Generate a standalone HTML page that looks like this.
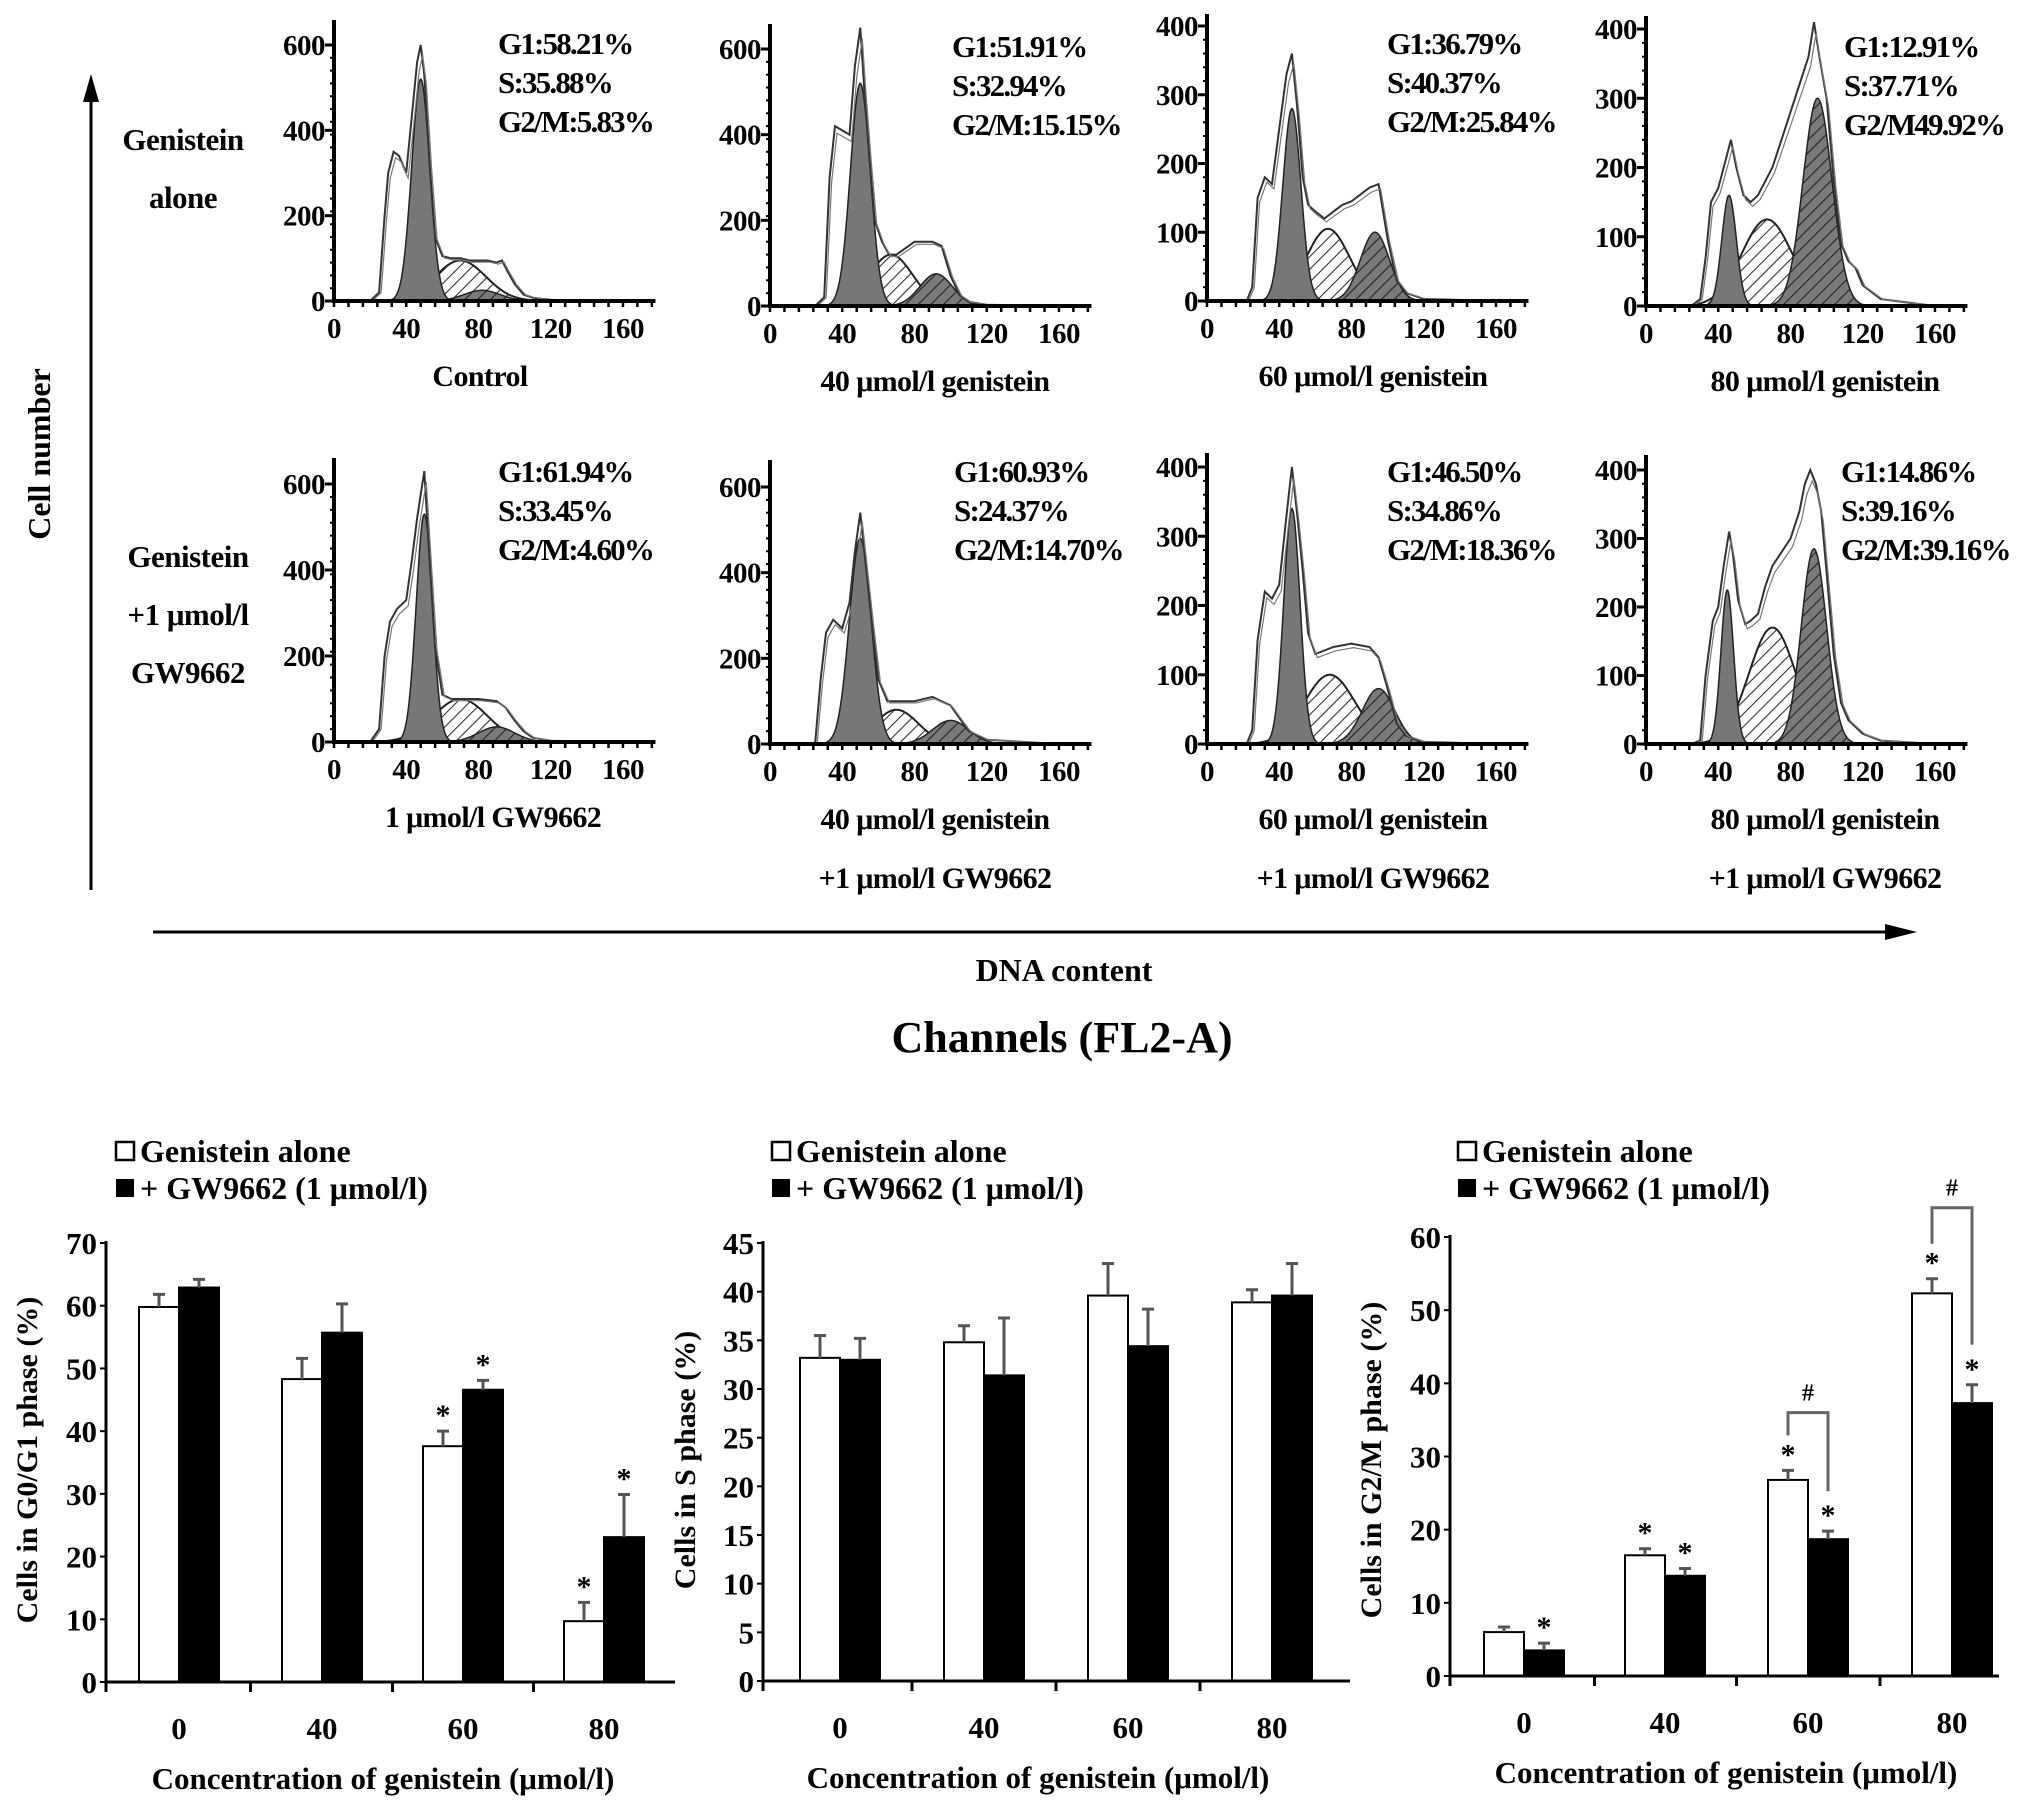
<!DOCTYPE html>
<html><head><meta charset="utf-8"><style>
html,body{margin:0;padding:0;background:#fff;}
svg{display:block;}
text{font-family:"Liberation Serif",serif;font-weight:bold;fill:#000;}
</style></head><body>
<svg id="fig" width="2031" height="1807" viewBox="0 0 2031 1807" xmlns="http://www.w3.org/2000/svg">
<defs>
<pattern id="hatchW" patternUnits="userSpaceOnUse" width="9" height="9" patternTransform="rotate(45)"><rect width="9" height="9" fill="#fff"/><line x1="0" y1="0" x2="0" y2="9" stroke="#333" stroke-width="2.2"/></pattern>
<pattern id="hatchG" patternUnits="userSpaceOnUse" width="9" height="9" patternTransform="rotate(45)"><rect width="9" height="9" fill="#7a7a7a"/><line x1="0" y1="0" x2="0" y2="9" stroke="#222" stroke-width="2.2"/></pattern>
</defs>
<g id="topSection"></g>
<g id="barSection"></g>
</svg>
<script>
// ===== Histogram data (channel, count) =====
const xTickLabels = [0,40,80,120,160];
const yTicks600 = [0,200,400,600];
const yTicks400 = [0,100,200,300,400];

const p1OutCh  = [20,25,28,30,33,36,40,43,46,48,50,53,56,60,65,70,75,80,85,90,93,96,100,105,110,115,120,130,160];
const p1OutVal = [0,20,200,300,350,340,300,430,560,600,530,320,150,105,100,100,95,95,95,90,95,70,40,15,8,5,3,1,0];
const p1Fit = [48,520,5, 70,95,14, 82,25,10];
const p1Stats = ["G1:58.21%","S:35.88%","G2/M:5.83%"];

const p2OutCh  = [25,30,33,36,40,44,47,50,52,55,58,62,66,70,75,80,85,90,95,100,105,110,120,160];
const p2OutVal = [0,20,300,420,410,400,560,650,520,350,200,150,120,120,135,150,150,150,140,70,25,10,3,0];
const p2Fit = [50,520,5.5, 67,120,12, 92,75,9];
const p2Stats = ["G1:51.91%","S:32.94%","G2/M:15.15%"];

const p3OutCh  = [22,25,28,32,36,40,44,47,50,53,56,60,65,70,75,80,85,90,95,100,105,110,120,160];
const p3OutVal = [0,20,150,180,170,250,330,360,280,180,140,130,120,130,140,145,155,165,170,90,30,12,3,0];
const p3Fit = [47,280,5, 67,105,12, 93,100,8];
const p3Stats = ["G1:36.79%","S:40.37%","G2/M:25.84%"];

const p4OutCh  = [25,30,33,36,40,44,47,50,54,58,62,66,70,75,80,85,90,93,96,100,104,108,112,116,120,130,160];
const p4OutVal = [0,10,70,150,170,210,240,200,160,150,160,180,200,240,280,320,360,410,360,300,180,90,65,55,30,10,0];
const p4Fit = [46,160,4, 67,125,14, 95,300,8];
const p4Stats = ["G1:12.91%","S:37.71%","G2/M49.92%"];

const p5OutCh  = [20,25,28,31,35,40,43,46,50,53,56,60,65,70,80,90,95,100,105,110,120,160];
const p5OutVal = [0,30,200,280,310,330,420,520,630,420,220,110,100,100,100,95,80,50,25,10,3,0];
const p5Fit = [50,530,4.5, 70,100,15, 90,35,10];
const p5Stats = ["G1:61.94%","S:33.45%","G2/M:4.60%"];

const p6OutCh  = [25,28,31,35,40,44,47,50,53,56,60,65,70,80,90,100,105,110,120,160];
const p6OutVal = [0,150,260,290,270,330,450,540,420,300,150,100,100,100,110,90,60,30,10,0];
const p6Fit = [50,480,6, 70,80,12, 100,55,10];
const p6Stats = ["G1:60.93%","S:24.37%","G2/M:14.70%"];

const p7OutCh  = [22,25,28,32,36,40,44,47,50,53,56,60,70,80,90,95,100,105,110,120,160];
const p7OutVal = [0,20,150,220,210,230,330,400,330,250,160,130,140,145,140,125,80,30,12,3,0];
const p7Fit = [47,340,4.5, 68,100,14, 95,80,9];
const p7Stats = ["G1:46.50%","S:34.86%","G2/M:18.36%"];

const p8OutCh  = [25,30,33,37,40,43,46,48,51,55,58,62,66,70,75,80,85,88,91,94,97,100,104,108,112,120,130,160];
const p8OutVal = [0,5,100,180,200,260,310,280,210,175,180,190,230,260,280,300,340,380,400,380,340,250,130,60,35,15,5,0];
const p8Fit = [45,225,3.5, 70,170,13, 93,285,7];
const p8Stats = ["G1:14.86%","S:39.16%","G2/M:39.16%"];

// ===== Bar chart data =====
const concCategories = ["0","40","60","80"];
const g1Alone = [59.8,48.3,37.6,9.7];
const g1AloneErr = [2.0,3.3,2.4,3.0];
const g1GW = [62.9,55.7,46.6,23.1];
const g1GWErr = [1.3,4.6,1.5,6.8];
const g1Ticks = [0,10,20,30,40,50,60,70];
const g1StarAlone = [false,false,true,true];
const g1StarGW = [false,false,true,true];

const sAlone = [33.2,34.8,39.6,38.9];
const sAloneErr = [2.3,1.7,3.3,1.3];
const sGW = [33.0,31.4,34.4,39.6];
const sGWErr = [2.2,5.9,3.8,3.3];
const sTicks = [0,5,10,15,20,25,30,35,40,45];
const sStarAlone = [false,false,false,false];
const sStarGW = [false,false,false,false];

const g2Alone = [6.0,16.5,26.8,52.3];
const g2AloneErr = [0.7,0.9,1.3,2.0];
const g2GW = [3.5,13.7,18.7,37.3];
const g2GWErr = [1.0,1.0,1.1,2.5];
const g2Ticks = [0,10,20,30,40,50,60];
const g2StarAlone = [false,true,true,true];
const g2StarGW = [true,true,true,true];

const NS="http://www.w3.org/2000/svg";
function mk(tag, attrs, parent){const e=document.createElementNS(NS,tag);for(const k in attrs)e.setAttribute(k,attrs[k]);if(parent)parent.appendChild(e);return e;}
function txt(parent,x,y,s,size,anchor,extra){const t=mk('text',Object.assign({x:x,y:y,'font-size':size,'text-anchor':anchor||'start'},extra||{}),parent);t.textContent=s;return t;}

const topG=document.getElementById('topSection');

const panelLayout=[
 {ox:334,zy:301,top:20,ppy:(301-45)/600,ticks:yTicks600,out:[p1OutCh,p1OutVal],fit:p1Fit,stats:p1Stats,sx:500,sy:43,cap:["Control"],cx:480},
 {ox:770,zy:306,top:24,ppy:(306-49)/600,ticks:yTicks600,out:[p2OutCh,p2OutVal],fit:p2Fit,stats:p2Stats,sx:954,sy:46,cap:["40 μmol/l genistein"],cx:935},
 {ox:1207,zy:301,top:14,ppy:(301-26)/400,ticks:yTicks400,out:[p3OutCh,p3OutVal],fit:p3Fit,stats:p3Stats,sx:1389,sy:43,cap:["60 μmol/l genistein"],cx:1373},
 {ox:1646,zy:306,top:16,ppy:(306-29)/400,ticks:yTicks400,out:[p4OutCh,p4OutVal],fit:p4Fit,stats:p4Stats,sx:1846,sy:46,cap:["80 μmol/l genistein"],cx:1825},
 {ox:334,zy:742,top:458,ppy:(742-484)/600,ticks:yTicks600,out:[p5OutCh,p5OutVal],fit:p5Fit,stats:p5Stats,sx:500,sy:471,cap:["1 μmol/l GW9662"],cx:493},
 {ox:770,zy:744,top:460,ppy:(744-487)/600,ticks:yTicks600,out:[p6OutCh,p6OutVal],fit:p6Fit,stats:p6Stats,sx:956,sy:471,cap:["40 μmol/l genistein","+1 μmol/l GW9662"],cx:935},
 {ox:1207,zy:744,top:453,ppy:(744-467)/400,ticks:yTicks400,out:[p7OutCh,p7OutVal],fit:p7Fit,stats:p7Stats,sx:1389,sy:471,cap:["60 μmol/l genistein","+1 μmol/l GW9662"],cx:1373},
 {ox:1646,zy:744,top:455,ppy:(744-470)/400,ticks:yTicks400,out:[p8OutCh,p8OutVal],fit:p8Fit,stats:p8Stats,sx:1843,sy:471,cap:["80 μmol/l genistein","+1 μmol/l GW9662"],cx:1825}
];
const PPX=1.806;
function gauss(x,m,h,s){return h*Math.exp(-0.5*((x-m)/s)*((x-m)/s));}

panelLayout.forEach((P,pi)=>{
  const g=mk('g',{},topG);
  
  
  const X=c=>P.ox+c*PPX, Y=v=>P.zy-v*P.ppy;
  const f=P.fit;
  function curvePts(m,h,s){let pts=[];for(let c=Math.max(0,m-3.2*s);c<=m+3.2*s;c+=0.5)pts.push(X(c).toFixed(1)+','+Y(gauss(c,m,h,s)).toFixed(1));return pts;}
  let sp=curvePts(f[3],f[4],f[5]);
  const sPath=mk('polygon',{points:X(f[3]-3.2*f[5])+','+P.zy+' '+sp.join(' ')+' '+X(f[3]+3.2*f[5])+','+P.zy,fill:'url(#hatchW)',stroke:'#222','stroke-width':2},g);
  
  
  let g1=curvePts(f[0],f[1],f[2]);
  const g1P=mk('polygon',{points:X(f[0]-3.2*f[2])+','+P.zy+' '+g1.join(' ')+' '+X(f[0]+3.2*f[2])+','+P.zy,fill:'#777',stroke:'#222','stroke-width':1.5},g);
  
  
  let g2=curvePts(f[6],f[7],f[8]);
  const g2P=mk('polygon',{points:X(f[6]-3.2*f[8])+','+P.zy+' '+g2.join(' ')+' '+X(f[6]+3.2*f[8])+','+P.zy,fill:'url(#hatchG)',stroke:'#222','stroke-width':1.5},g);
  
  
  const ch=P.out[0], vals=P.out[1];
  let d='';ch.forEach((c,i)=>{d+=(i?'L':'M')+X(c).toFixed(1)+','+Y(vals[i]).toFixed(1);});
  const ol=mk('path',{d:d,fill:'none',stroke:'#333','stroke-width':2},g);
  
  
  let d2='';ch.forEach((c,i)=>{d2+=(i?'L':'M')+(X(c)+2).toFixed(1)+','+(Y(vals[i]*0.96)).toFixed(1);});
  const ol2=mk('path',{d:d2,fill:'none',stroke:'#777','stroke-width':1.2},g);
  
  
  const ax=mk('path',{d:'M'+P.ox+','+P.top+'V'+P.zy+'H'+X(178),stroke:'#000','stroke-width':4,fill:'none'},g);
  
  
  const maxT=P.ticks[P.ticks.length-1];
  const step=maxT/20;
  for(let v=0;v<=maxT+0.1;v+=step){mk('line',{x1:P.ox-4,x2:P.ox,y1:Y(v),y2:Y(v),stroke:'#000','stroke-width':2},g);}
  P.ticks.forEach(v=>{mk('line',{x1:P.ox-9,x2:P.ox,y1:Y(v),y2:Y(v),stroke:'#000','stroke-width':3},g);
    const t=txt(g,P.ox-9,Y(v)+10,String(v),29,'end',{'letter-spacing':'-0.5'});
    
    });
  for(let c=0;c<=176;c+=8){mk('line',{x1:X(c),x2:X(c),y1:P.zy,y2:P.zy+6,stroke:'#000','stroke-width':2.5},g);}
  xTickLabels.forEach(c=>{const t=txt(g,X(c),P.zy+37,String(c),29,'middle',{'letter-spacing':'-0.5'});
    
    });
  P.stats.forEach((s,i)=>{const t=txt(g,P.sx-2,P.sy+11+i*39,s,31,'start',{'letter-spacing':'-1.8'});
    
    });
  P.cap.forEach((s,i)=>{const t=txt(g,P.cx,P.zy+85+i*59,s,30,'middle',{'letter-spacing':'-0.6'});
    
    });
});

[[183,150,"Genistein"],[183,208,"alone"],[188,567,"Genistein"],[188,625,"+1 μmol/l"],[188,683,"GW9662"]].forEach(r=>{
  const t=txt(topG,r[0],r[1],r[2],31,'middle',{'letter-spacing':'-0.5'});
  
  
});
const va=mk('line',{x1:91,y1:890,x2:91,y2:95,stroke:'#000','stroke-width':3},topG);


mk('path',{d:'M83,102 L91,74 L99,102 z',fill:'#000'},topG);
const cn=txt(topG,39,465,"Cell number",32,'middle',{transform:'rotate(-90 39 454)'});


const ha=mk('line',{x1:153,y1:932,x2:1890,y2:932,stroke:'#000','stroke-width':3},topG);


mk('path',{d:'M1885,924 L1917,932 L1885,940 z',fill:'#000'},topG);
const dna=txt(topG,1064,981,"DNA content",32,'middle');


const chn=txt(topG,1062,1052,"Channels (FL2-A)",44,'middle');



// ===== Bar charts =====
const barG=document.getElementById('barSection');
const charts=[
 {name:'g0g1-chart',ax:106,zy:1682,maxV:70,topY:1243,xEnd:675,centers:[179,322,463,604],a:g1Alone,ae:g1AloneErr,b:g1GW,be:g1GWErr,ticks:g1Ticks,sa:g1StarAlone,sb:g1StarGW,lx:125,tx:383,ytx:27,ytitle:"Cells in G0/G1 phase (%)"},
 {name:'s-phase-chart',ax:763,zy:1681,maxV:45,topY:1243,xEnd:1350,centers:[840,984,1128,1272],a:sAlone,ae:sAloneErr,b:sGW,be:sGWErr,ticks:sTicks,sa:sStarAlone,sb:sStarGW,lx:781,tx:1038,ytx:685,ytitle:"Cells in S phase (%)"},
 {name:'g2m-chart',ax:1450,zy:1676,maxV:60,topY:1237,xEnd:1999,centers:[1524,1665,1808,1952],a:g2Alone,ae:g2AloneErr,b:g2GW,be:g2GWErr,ticks:g2Ticks,sa:g2StarAlone,sb:g2StarGW,lx:1467,tx:1726,ytx:1371,ytitle:"Cells in G2/M phase (%)"}
];
const BW=40;
const chartGroups=[];
charts.forEach((C,ci)=>{
  const g=mk('g',{},barG);
  
  
  chartGroups.push(g);
  const Y=v=>C.zy-v*(C.zy-C.topY)/C.maxV;
  const l1=mk('rect',{x:C.lx-9,y:1142,width:18,height:18,fill:'#fff',stroke:'#000','stroke-width':2.5},g);
  
  
  const l2=mk('rect',{x:C.lx-9,y:1179,width:18,height:18,fill:'#000'},g);
  
  
  const t1=txt(g,C.lx+15,1162,"Genistein alone",32,'start');
  
  
  const t2=txt(g,C.lx+15,1199,"+ GW9662 (1 μmol/l)",32,'start');
  
  
  C.centers.forEach((cx,i)=>{
    [[C.a,C.ae,C.sa,-1,'#fff'],[C.b,C.be,C.sb,0,'#000']].forEach(s=>{
      const v=s[0][i], e=s[1][i], x=cx+s[3]*BW;
      const r=mk('rect',{x:x,y:Y(v),width:BW,height:C.zy-Y(v),fill:s[4],stroke:'#000','stroke-width':2},g);
      
      
      const ex=x+BW/2;
      const el=mk('path',{d:'M'+ex+','+Y(v)+'V'+Y(v+e)+'M'+(ex-6)+','+Y(v+e)+'H'+(ex+6),stroke:'#555','stroke-width':3,fill:'none'},g);
      
      
      if(s[2][i]){const st=txt(g,ex,Y(v+e)-6,"*",30,'middle',{fill:'#666'});
        
        }
    });
  });
  const ya=mk('path',{d:'M'+C.ax+','+(C.topY-2)+'V'+C.zy+'H'+C.xEnd,stroke:'#000','stroke-width':3,fill:'none'},g);
  
  
  C.ticks.forEach(v=>{mk('line',{x1:C.ax-6,x2:C.ax,y1:Y(v),y2:Y(v),stroke:'#000','stroke-width':2},g);
    const t=txt(g,C.ax-9,Y(v)+11,String(v),31,'end');
    
    });
  const edges=[C.ax];for(let i=0;i<C.centers.length-1;i++)edges.push((C.centers[i]+C.centers[i+1])/2);
  edges.forEach(x=>mk('line',{x1:x,x2:x,y1:C.zy,y2:C.zy+10,stroke:'#000','stroke-width':3},g));
  C.centers.forEach((cx,i)=>{const t=txt(g,cx,C.zy+57,concCategories[i],31,'middle');
    
    });
  const xt=txt(g,C.tx,C.zy+107,"Concentration of genistein (μmol/l)",31,'middle');
  
  
  const yt=txt(g,C.ytx+10,1460,C.ytitle,30,'middle',{transform:'rotate(-90 '+(C.ytx+10)+' 1460)'});
  
  
});
(function(){
  const C=charts[2];const Y=v=>C.zy-v*(C.zy-C.topY)/C.maxV;
  const g=chartGroups[2];
  [[2,36],[3,64]].forEach(b=>{
    const i=b[0];const xa=C.centers[i]-BW/2, xb=C.centers[i]+BW/2;
    const ya=Y(C.a[i]+C.ae[i])-35, yb=Y(C.b[i]+C.be[i])-40;
    const yt=Y(b[1]);
    const p=mk('path',{d:'M'+xa+','+ya+'V'+yt+'H'+xb+'V'+yb,stroke:'#666','stroke-width':3,fill:'none'},g);
    
    
    const h=txt(g,(xa+xb)/2,yt-12,"#",24,'middle',{fill:'#666','font-weight':'normal'});
    
    
  });
})();
</script>
</body></html>
